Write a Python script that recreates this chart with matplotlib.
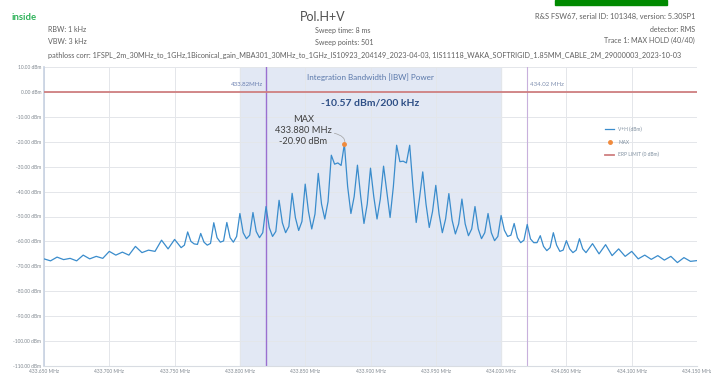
import matplotlib
matplotlib.use("Agg")
import matplotlib.pyplot as plt
from matplotlib.patches import Rectangle

plt.rcParams['font.family'] = ['Lato', 'DejaVu Sans']

# ---- data ----
freq_mhz = [433.650, 433.655, 433.660, 433.665, 433.670, 433.675, 433.680, 433.685, 433.690, 433.695,
            433.700, 433.705, 433.710, 433.715, 433.720, 433.725, 433.730, 433.735, 433.740, 433.745,
            433.750, 433.755, 433.7575, 433.760, 433.7625, 433.765, 433.7675, 433.770, 433.7725, 433.775,
            433.7775, 433.780, 433.7825, 433.785, 433.7875, 433.790, 433.7925, 433.795, 433.7975, 433.800,
            433.8025, 433.805, 433.8075, 433.810, 433.8125, 433.815, 433.8175, 433.820, 433.8225, 433.825,
            433.8275, 433.830, 433.8325, 433.835, 433.8375, 433.840, 433.8425, 433.845, 433.8475, 433.850,
            433.8525, 433.855, 433.8575, 433.860, 433.8625, 433.865, 433.8675, 433.870, 433.8725, 433.875,
            433.8775, 433.880, 433.8825, 433.885, 433.8875, 433.890, 433.8925, 433.895, 433.8975, 433.900,
            433.9025, 433.905, 433.9075, 433.910, 433.9125, 433.915, 433.9175, 433.920, 433.9225, 433.925,
            433.9275, 433.930, 433.9325, 433.935, 433.9375, 433.940, 433.9425, 433.945, 433.9475, 433.950,
            433.9525, 433.955, 433.9575, 433.960, 433.9625, 433.965, 433.9675, 433.970, 433.9725, 433.975,
            433.9775, 433.980, 433.9825, 433.985, 433.9875, 433.990, 433.9925, 433.995, 433.9975, 434.000,
            434.0025, 434.005, 434.0075, 434.010, 434.0125, 434.015, 434.0175, 434.020, 434.0225, 434.025,
            434.0275, 434.030, 434.0325, 434.035, 434.0375, 434.040, 434.0425, 434.045, 434.0475, 434.050,
            434.0525, 434.055, 434.0575, 434.060, 434.0625, 434.065, 434.070, 434.075, 434.080, 434.085,
            434.090, 434.095, 434.100, 434.105, 434.110, 434.115, 434.120, 434.125, 434.130, 434.135,
            434.140, 434.145, 434.150]
level_dbm = [-67.0, -67.8, -66.3, -67.3, -66.8, -67.8, -65.5, -67.0, -66.0, -66.8,
             -64.0, -65.5, -64.3, -65.5, -62.0, -64.5, -63.5, -64.0, -59.5, -63.0,
             -59.2, -62.5, -61.5, -56.2, -60.0, -61.0, -61.2, -56.8, -60.3, -61.5,
             -60.8, -52.5, -58.5, -60.3, -59.8, -52.4, -58.5, -60.3, -58.0, -48.8,
             -56.5, -58.9, -57.5, -48.4, -56.0, -58.5, -56.5, -46.0, -54.5, -58.0,
             -56.0, -43.5, -52.5, -56.5, -54.0, -40.7, -50.5, -55.6, -52.0, -37.0,
             -48.0, -55.0, -49.0, -32.7, -45.0, -51.0, -44.0, -25.4, -29.0, -28.5,
             -29.5, -20.9, -38.0, -48.8, -42.0, -29.4, -42.0, -52.8, -45.0, -30.6,
             -42.0, -51.0, -43.0, -29.8, -40.0, -50.4, -38.0, -21.4, -28.0, -27.8,
             -28.5, -21.4, -38.0, -52.4, -42.7, -32.1, -45.0, -54.4, -48.0, -37.5,
             -49.0, -56.5, -51.0, -40.8, -51.5, -57.0, -53.0, -43.0, -53.0, -57.7,
             -55.0, -46.0, -55.0, -58.9, -56.5, -48.8, -56.5, -59.7, -58.0, -49.6,
             -55.5, -58.0, -57.5, -52.8, -58.5, -60.5, -59.5, -53.2, -59.0, -60.5,
             -60.5, -57.7, -62.0, -63.7, -62.5, -56.5, -61.5, -64.0, -63.5, -59.7,
             -63.0, -64.5, -63.5, -58.9, -63.0, -64.5, -60.9, -65.0, -61.3, -65.7,
             -63.0, -66.0, -64.0, -67.0, -65.5, -67.2, -65.7, -67.5, -66.0, -68.5,
             -66.5, -68.0, -67.7]
max_freq = 433.880
max_level = -20.90
erp_limit = 0.0
ibw_start, ibw_stop = 433.80, 434.00
marker_lines = [433.82, 434.02]
marker_labels = ["433.82MHz", "434.02 MHz"]
ibw_power_text = "-10.57 dBm/200 kHz"
x_ticks = [433.650, 433.700, 433.750, 433.800, 433.850, 433.900, 433.950, 434.000, 434.050, 434.100, 434.150]
y_ticks = list(range(10, -111, -10))

W, H = 711, 377
fig = plt.figure(figsize=(W / 100, H / 100), dpi=100)
fig.patch.set_facecolor('white')

def fx(px):
    return px / W

def fy(py):
    return 1 - py / H

ax = fig.add_axes([fx(44), fy(366), fx(697) - fx(44), fy(67) - fy(366)])
ax.set_xlim(433.650, 434.150)
ax.set_ylim(-110, 10)

# IBW shading
ax.axvspan(ibw_start, ibw_stop, color='#e2e8f4', zorder=0)

ax.set_xticks(x_ticks)
ax.set_xticklabels([f"{v:.3f} MHz" for v in x_ticks])
ax.set_yticks(y_ticks)
ax.set_yticklabels([f"{v:.2f} dBm" for v in y_ticks])
ax.tick_params(axis='both', length=0, labelsize=3.5, labelcolor='#808890', pad=2)
ax.grid(True, color='#e4e6ea', linewidth=0.7, zorder=1)
ax.set_axisbelow(True)
for s in ['top', 'right']:
    ax.spines[s].set_visible(False)
ax.spines['left'].set_color('#c8d2e2')
ax.spines['left'].set_linewidth(1.2)
ax.spines['bottom'].set_color('#d8dce2')
ax.spines['bottom'].set_linewidth(0.8)

# marker lines
ax.axvline(marker_lines[0], color='#9a6fd0', linewidth=1.0, zorder=2)
ax.axvline(marker_lines[1], color='#c8b0dc', linewidth=0.8, zorder=2)
ax.text(marker_lines[0] - 0.002, 2.8, marker_labels[0], ha='right', va='center',
        fontsize=4.4, color='#6a7fb0')
ax.text(marker_lines[1] + 0.002, 2.8, marker_labels[1], ha='left', va='center',
        fontsize=4.4, color='#8090b0')

# trace
ax.plot(freq_mhz, level_dbm, color='#3a8ccc', linewidth=0.9, zorder=4, label='V+H (dBm)')
ax.plot([max_freq], [max_level], 'o', color='#f08a3c', markersize=2.5, zorder=5, label='MAX')
ax.axhline(erp_limit, color='#cf7f80', linewidth=1.3, zorder=3, label='ERP LIMIT (0 dBm)')

ax.text(433.9, 6.0, "Integration Bandwidth [IBW] Power", ha='center', va='center',
        fontsize=5.8, color='#5a78aa')
ax.text(433.9, -4.3, ibw_power_text, ha='center', va='center', fontsize=7.5,
        fontweight='bold', color='#2e4f86')

ax.annotate("MAX\n433.880 MHz\n-20.90 dBm", xy=(max_freq, max_level),
            xytext=(433.8485, -15.5), ha='center', va='center', fontsize=6.7,
            color='#404040', linespacing=1.3,
            arrowprops=dict(arrowstyle='-', color='#a0a0a0', linewidth=0.5,
                            connectionstyle='angle3,angleA=0,angleB=70',
                            shrinkA=20, shrinkB=1))

leg = ax.legend(loc='upper left', bbox_to_anchor=(0.853, 0.815), frameon=False,
                fontsize=3.5, handlelength=1.8, labelspacing=1.55, markerscale=1.0)
for t in leg.get_texts():
    t.set_color('#8090a0')

# header
fig.patches.append(Rectangle((fx(555), fy(5)), fx(112), 5 / H, transform=fig.transFigure,
                             color='#008a00', zorder=10))
hc = '#606060'
fig.text(fx(12), fy(18), "inside", fontsize=6.8, fontweight='bold', color='#2eb35a',
         ha='left', va='center')
fig.text(fx(323), fy(17), "Pol.H+V", fontsize=9, color='#505050', ha='center', va='center')
fig.text(fx(48), fy(30), "RBW: 1 kHz", fontsize=5.1, color=hc, ha='left', va='center')
fig.text(fx(48), fy(41), "VBW: 3 kHz", fontsize=5.1, color=hc, ha='left', va='center')
fig.text(fx(315), fy(30), "Sweep time: 8 ms", fontsize=5.1, color=hc, ha='left', va='center')
fig.text(fx(315), fy(42), "Sweep points: 501", fontsize=5.1, color=hc, ha='left', va='center')
fig.text(fx(695), fy(16), "R&S FSW67, serial ID: 101348, version: 5.30SP1", fontsize=5.4,
         color=hc, ha='right', va='center')
fig.text(fx(695), fy(30), "detector: RMS", fontsize=5.1, color=hc, ha='right', va='center')
fig.text(fx(695), fy(40), "Trace 1: MAX HOLD (40/40)", fontsize=5.1, color=hc,
         ha='right', va='center')
fig.text(fx(48), fy(55),
         "pathloss corr: 1FSPL_2m_30MHz_to_1GHz,1Biconical_gain_MBA301_30MHz_to_1GHz_IS10923_204149_2023-04-03, "
         "1IS11118_WAKA_SOFTRIGID_1.85MM_CABLE_2M_29000003_2023-10-03",
         fontsize=5.2, color=hc, ha='left', va='center')

fig.savefig("out.png", dpi=100)
